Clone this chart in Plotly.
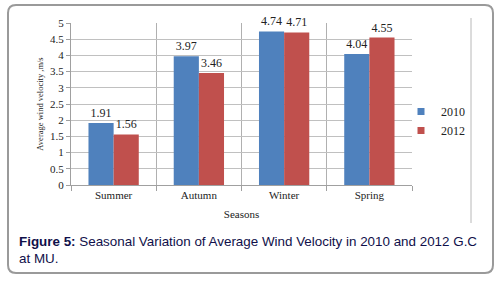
import plotly.graph_objects as go

seasons = ["Summer", "Autumn", "Winter", "Spring"]
v2010 = [1.91, 3.97, 4.74, 4.04]
v2012 = [1.56, 3.46, 4.71, 4.55]
series_names = ["2010", "2012"]
colors = ["#4F81BD", "#C0504D"]

serif = "Liberation Serif, Times New Roman, serif"

fig = go.Figure()
for name, vals, col in zip(series_names, [v2010, v2012], colors):
    fig.add_trace(go.Bar(
        x=seasons, y=vals, name=name, marker_color=col, marker_line_width=0,
        text=[f"{v:.2f}" for v in vals], textposition="outside",
        textfont=dict(family=serif, size=12, color="#222"), cliponaxis=False,
        showlegend=False,
    ))
# legend entries with small square markers
for name, col in zip(series_names, colors):
    fig.add_trace(go.Scatter(
        x=[None], y=[None], mode="markers", name=name,
        marker=dict(symbol="square", size=7, color=col), showlegend=True,
    ))

L, R, T, B = 71, 88, 23, 96
W, H = 500, 281
pw, ph = W - L - R, H - T - B

def px(x):
    return (x - L) / pw

def py(y):
    return (H - B - y) / ph

fig.update_layout(
    width=W, height=H, autosize=False,
    margin=dict(l=L, r=R, t=T, b=B),
    paper_bgcolor="white", plot_bgcolor="white",
    barmode="group", bargap=0.41, bargroupgap=0,
    font=dict(family=serif, size=11, color="#222"),
    showlegend=True,
    legend=dict(x=px(401), y=py(121), xanchor="left", yanchor="middle",
                font=dict(family=serif, size=12, color="#222"),
                itemwidth=30, tracegroupgap=2, bgcolor="rgba(0,0,0,0)"),
    xaxis=dict(tickson="boundaries", showgrid=True, gridcolor="#b0b0b0", gridwidth=1,
               showline=True, linecolor="#a0a0a0", ticks="outside", ticklen=5, tickcolor="#a0a0a0",
               tickfont=dict(family=serif, size=11, color="#222"),
               title=dict(text="Seasons", font=dict(family=serif, size=11, color="#222"), standoff=10)),
    yaxis=dict(range=[0, 5], dtick=0.5, showgrid=True, gridcolor="#c0c0c0", gridwidth=1,
               showline=True, linecolor="#a0a0a0", ticks="outside", ticklen=4, tickcolor="#a0a0a0",
               tickfont=dict(family=serif, size=11, color="#222"), zeroline=False,
               title=dict(text="Average wind velocity ,m/s", font=dict(family=serif, size=8.5, color="#222"), standoff=5)),
)

# outer rounded border
x0, y0, x1, y1 = px(8), py(5), px(493), py(273)
rx, ry = 8 / pw, 8 / ph
path = (f"M {x0+rx} {y0} L {x1-rx} {y0} Q {x1} {y0} {x1} {y0-ry} "
        f"L {x1} {y1+ry} Q {x1} {y1} {x1-rx} {y1} L {x0+rx} {y1} "
        f"Q {x0} {y1} {x0} {y1+ry} L {x0} {y0-ry} Q {x0} {y0} {x0+rx} {y0} Z")
fig.add_shape(type="path", path=path, xref="paper", yref="paper",
              line=dict(color="#9a9a9a", width=2), layer="below")
# inner vertical frame line
fig.add_shape(type="line", xref="paper", yref="paper", x0=px(471), x1=px(471),
              y0=py(18), y1=py(223), line=dict(color="#b8b8b8", width=1))

fig.add_annotation(
    xref="paper", yref="paper", x=px(17), y=py(232), xanchor="left", yanchor="top",
    align="left", showarrow=False,
    text="<b>Figure 5:</b> Seasonal Variation of Average Wind Velocity in 2010 and 2012 G.C<br>at MU.",
    font=dict(family="Liberation Sans, Arial, sans-serif", size=13.4, color="#10104a"),
)

fig.write_html("out.html", config={"displayModeBar": False},
               post_script="document.body.style.margin='0';document.body.style.overflow='hidden';")
